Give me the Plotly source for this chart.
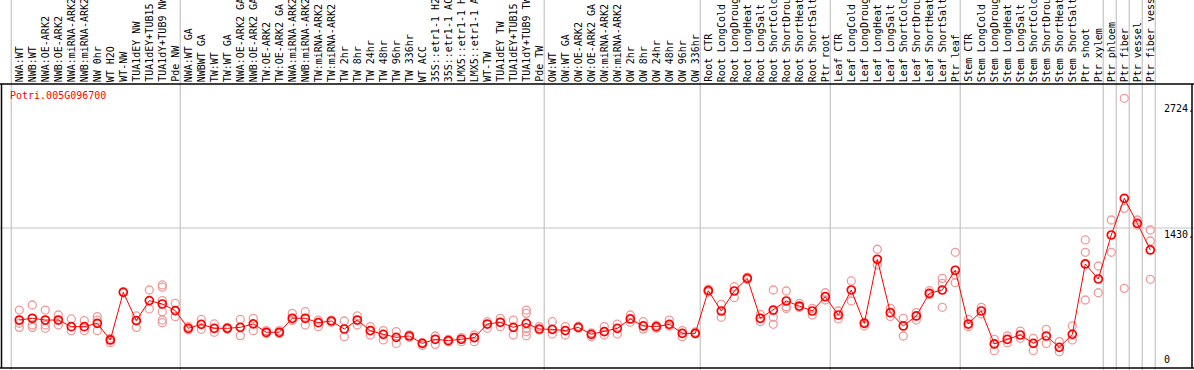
import plotly.graph_objects as go

labels = [
    "NWA:WT", "NWB:WT", "NWA:OE-ARK2", "NWB:OE-ARK2", "NWA:miRNA-ARK2", "NWB:miRNA-ARK2",
    "NW 0hr", "WT H2O", "WT-NW", "TUA1dEY NW", "TUA1dEY+TUB15 NW", "TUA1dY+TUB9 NW", "Pde NW",
    "NWA:WT GA", "NWBWT GA", "TW:WT", "TW:WT GA", "NWA:OE-ARK2 GA", "NWB:OE-ARK2 GA",
    "TW:OE-ARK2", "TW:OE-ARK2 GA", "NWA:miRNA-ARK2", "NWB:miRNA-ARK2", "TW:miRNA-ARK2",
    "TW:miRNA-ARK2", "TW 2hr", "TW 8hr", "TW 24hr", "TW 48hr", "TW 96hr", "TW 336hr",
    "WT ACC", "35S::etr1-1 H2O", "35S::etr1-1 ACC", "LMX5::etr1-1 H2O", "LMX5::etr1-1 ACC",
    "WT-TW", "TUA1dEY TW", "TUA1dEY+TUB15 TW", "TUA1dY+TUB9 TW", "Pde TW",
    "OW:WT", "OW:WT GA", "OW:OE-ARK2", "OW:OE-ARK2 GA", "OW:miRNA-ARK2", "OW:miRNA-ARK2",
    "OW 2hr", "OW 8hr", "OW 24hr", "OW 48hr", "OW 96hr", "OW 336hr",
    "Root CTR", "Root LongCold", "Root LongDrought", "Root LongHeat", "Root LongSalt",
    "Root ShortCold", "Root ShortDrought", "Root ShortHeat", "Root ShortSalt", "Ptr root",
    "Leaf CTR", "Leaf LongCold", "Leaf LongDrought", "Leaf LongHeat", "Leaf LongSalt",
    "Leaf ShortCold", "Leaf ShortDrought", "Leaf ShortHeat", "Leaf ShortSalt", "Ptr leaf",
    "Stem CTR", "Stem LongCold", "Stem LongDrought", "Stem LongHeat", "Stem LongSalt",
    "Stem ShortCold", "Stem ShortDrought", "Stem ShortHeat", "Stem ShortSalt",
    "Ptr shoot", "Ptr xylem", "Ptr phloem", "Ptr fiber", "Ptr vessel", "Ptr fiber vessel",
]

means = [
    483, 501, 483, 483, 415, 415, 449, 278, 768, 477, 683, 648, 580,
    398, 439, 398, 398, 408, 443, 357, 357, 501, 501, 456, 473, 391, 483, 374, 336, 305, 319,
    243, 285, 271, 285, 302, 442, 460, 408, 449, 391,
    387, 374, 408, 336, 364, 398, 494, 422, 415, 439, 346, 346,
    785, 576, 782, 912, 501, 586, 679, 627, 576, 723,
    535, 792, 449, 1108, 559, 422, 525, 758, 792, 995,
    442, 576, 237, 285, 329, 243, 319, 202, 336, 1060, 905,
    1358, 1735, 1478, 1204,
]

replicates = [
    [586, 450, 408], [638, 432, 408], [586, 432, 398], [535, 432], [494, 374], [477, 374],
    [518, 483, 374], [295, 250], [775], [525, 408], [792, 597], [844, 821, 683, 569, 483, 456],
    [655, 518],
    [415, 381], [489, 388], [443, 357], [408, 390], [489, 323], [501, 374], [374, 345],
    [374, 345], [552, 480], [569, 432], [483, 415], [483, 460], [473, 312], [525, 432],
    [415, 329], [374, 278], [364, 243], [329, 305], [222, 250], [319, 233], [285, 261],
    [302, 261], [329, 261], [466, 398], [501, 415], [483, 329], [586, 552, 398, 364, 322],
    [415, 380],
    [466, 339], [415, 329], [420, 400], [312, 350], [415, 329], [442, 339], [535, 460],
    [466, 390], [430, 400], [483, 420], [374, 312], [360, 340],
    [800, 770], [645, 511], [826, 713], [925, 900], [542, 466], [792, 511, 439],
    [782, 620, 603], [655, 613], [603, 535], [764, 689],
    [576, 494], [885, 679], [422, 460], [1211, 1049], [603, 520], [501, 319], [559, 483],
    [785, 744], [912, 861, 614], [1180, 867, 946],
    [489, 415], [614, 545], [284, 168], [319, 250], [370, 295], [295, 168], [388, 243],
    [261, 158], [422, 278], [1307, 1180, 689], [1039, 764],
    [1512, 1180], [2764, 1632, 809], [1512, 1460], [1409, 1296, 902],
]

group_starts = [0, 13, 41, 53, 63, 73, 84, 85, 86, 87, 88]
grid_value = 1430
axis_labels = ["2724.", "1430.", "0"]
axis_label_values = [2724, 1430, 0]
gene_id = "Potri.005G096700"

W, H = 1194, 370
MT, MB = 84, 3
col_px = 13.0
x_min = -19.3 / col_px
x_max = x_min + W / col_px
y_max = 2911

n = len(labels)
rx, ry = [], []
for i, vals in enumerate(replicates):
    for v in vals:
        rx.append(i)
        ry.append(v)

fig = go.Figure()
fig.add_trace(go.Scatter(
    x=rx, y=ry, mode="markers",
    marker=dict(symbol="circle-open", size=8, color="#f29a9a", line=dict(width=1.3)),
    hoverinfo="skip", showlegend=False, cliponaxis=False,
))
fig.add_trace(go.Scatter(
    x=list(range(n)), y=means, mode="lines+markers",
    line=dict(color="#ff0000", width=1),
    marker=dict(symbol="circle-open", size=8, color="#ff0000", line=dict(width=1.7)),
    showlegend=False, cliponaxis=False,
))

shapes = []
plot_h = H - MT - MB
top_paper = (H - MB) / plot_h
bot_paper = -(MB) / plot_h
for g in group_starts:
    shapes.append(dict(type="line", xref="x", yref="paper", x0=g - 0.62, x1=g - 0.62,
                       y0=bot_paper, y1=top_paper, line=dict(color="#c4c4c4", width=1.2),
                       layer="below"))
shapes.append(dict(type="line", xref="paper", yref="y", x0=0, x1=1, y0=grid_value, y1=grid_value,
                   line=dict(color="#c4c4c4", width=1.2), layer="below"))
# borders
shapes.append(dict(type="line", xref="paper", yref="paper", x0=0, x1=1, y0=1, y1=1,
                   line=dict(color="black", width=1.5)))
shapes.append(dict(type="line", xref="paper", yref="paper", x0=0, x1=1,
                   y0=-1 / plot_h, y1=-1 / plot_h, line=dict(color="black", width=1.5)))
shapes.append(dict(type="line", xref="paper", yref="paper", x0=1.5 / W, x1=1.5 / W,
                   y0=-1 / plot_h, y1=1, line=dict(color="black", width=1.5)))
shapes.append(dict(type="line", xref="paper", yref="paper", x0=1192 / W, x1=1192 / W,
                   y0=-1 / plot_h, y1=1, line=dict(color="black", width=1.5)))

font_mono = "DejaVu Sans Mono"
annotations = []
for i, lab in enumerate(labels):
    annotations.append(dict(
        x=i, xref="x", y=1, yref="paper", text=lab, textangle=-90,
        xanchor="center", yanchor="bottom", showarrow=False, borderpad=0, yshift=1,
        font=dict(family=font_mono, size=10, color="black"),
    ))
annotations.append(dict(
    x=9 / W, xref="paper", y=1, yref="paper", text=gene_id, xanchor="left", yanchor="top",
    showarrow=False, borderpad=0, yshift=-5, font=dict(family=font_mono, size=10, color="#ff0000"),
))
for lab, v in zip(axis_labels, axis_label_values):
    annotations.append(dict(
        x=1163 / W, xref="paper", y=v, yref="y", text=lab, xanchor="left",
        yanchor="bottom" if v == 0 else "top", showarrow=False, borderpad=0,
        yshift=1 if v == 0 else 0,
        font=dict(family=font_mono, size=10, color="black"),
    ))

fig.update_layout(
    width=W, height=H,
    margin=dict(l=0, r=0, t=MT, b=MB, pad=0),
    paper_bgcolor="white", plot_bgcolor="white",
    xaxis=dict(range=[x_min, x_max], visible=False, fixedrange=True),
    yaxis=dict(range=[0, y_max], visible=False, fixedrange=True),
    shapes=shapes, annotations=annotations,
    hovermode=False,
)
fig.write_html(
    "out.html",
    config={"displayModeBar": False, "staticPlot": True},
    post_script="document.body.style.margin='0';document.body.style.overflow='hidden';",
)
